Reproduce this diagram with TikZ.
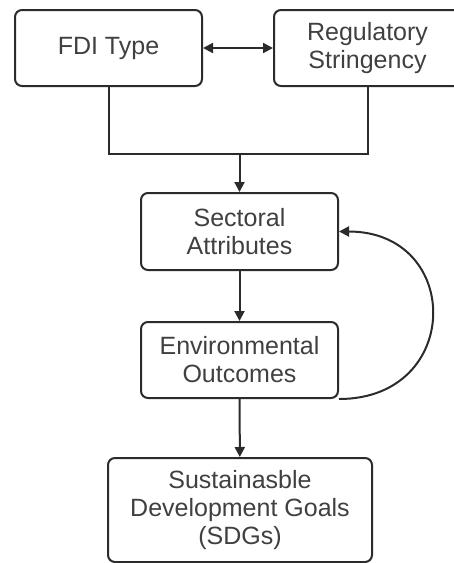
\documentclass[tikz,border=0pt]{standalone}
\usepackage{fontspec}
\setmainfont{Liberation Sans}
\usetikzlibrary{arrows.meta}

\definecolor{boxline}{HTML}{2B2B2B}
\definecolor{boxtext}{HTML}{404040}

\tikzset{
	box/.style={draw=boxline, line width=2pt, rounded corners=7pt, align=center,
		text=boxtext, font=\fontsize{25}{28}\selectfont, inner sep=0pt},
	link/.style={draw=boxline, line width=2pt},
	arr/.style={link, -{Triangle[length=10pt,width=10pt]}},
}

\begin{document}
\begin{tikzpicture}[x=1pt,y=-1pt]
		\useasboundingbox (0,0) rectangle (454,563);
		\clip (0,0) rectangle (454,563);

		\node[box, minimum width=187pt, minimum height=76pt] (fdi) at (108.5,48) {FDI Type};
		\node[box, minimum width=187pt, minimum height=76pt] (reg) at (367.5,48) {Regulatory\\Stringency};
		\node[box, minimum width=197pt, minimum height=77pt] (sect) at (239.5,231.5) {Sectoral\\Attributes};
		\node[box, minimum width=197pt, minimum height=76pt] (env) at (239.5,360) {Environmental\\Outcomes};
		\node[box, minimum width=264pt, minimum height=104pt] (sdg) at (240,510) {Sustainasble\\Development Goals\\(SDGs)};

		\coordinate (join) at (239.5,154);

		\draw[link, {Triangle[length=10pt,width=10pt]}-{Triangle[length=10pt,width=10pt]}] (fdi) -- (reg);
		\draw[link] (fdi.south) |- (join) -| (reg.south);
		\draw[arr] (join) -- (sect.north);
		\draw[arr] (sect) -- (env);
		\draw[arr] (env) -- (sdg);
		\draw[arr] (env.south east) .. controls +(124,0) and +(124,0) .. (sect.east);

		%\draw[arr] (env.east) to[out=0,in=0,looseness=2] (sect.east);
	\end{tikzpicture}
\end{document}
